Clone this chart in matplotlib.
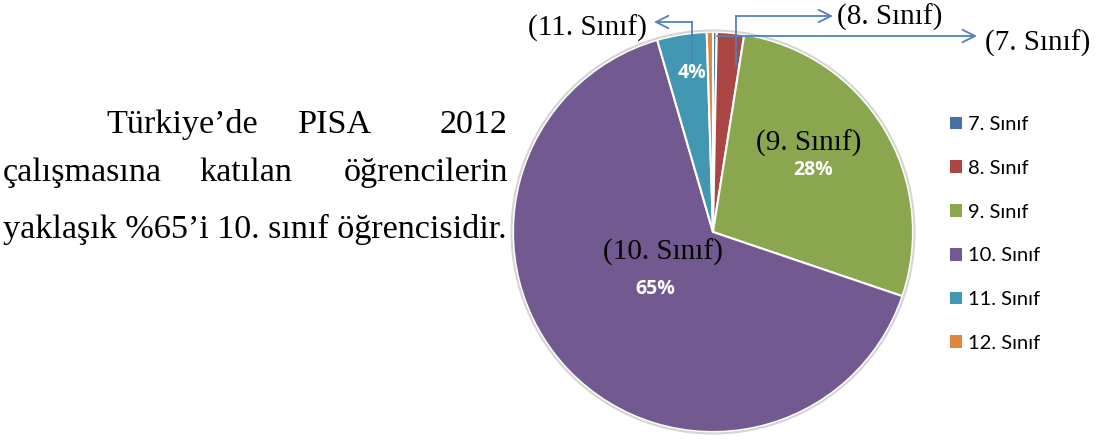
import matplotlib.pyplot as plt
from matplotlib.patches import Patch

W, H = 1100, 441

siniflar = ["7. Sınıf", "8. Sınıf", "9. Sınıf", "10. Sınıf", "11. Sınıf", "12. Sınıf"]
oranlar = [0.3, 2.2, 27.7, 65.3, 4.0, 0.5]
renkler = ["#4472A8", "#AA4644", "#8AA64E", "#725A90", "#4298B2", "#E0873F"]

aciklama = [
    ["Türkiye’de", "PISA", "2012"],
    ["çalışmasına", "katılan", "öğrencilerin"],
    ["yaklaşık %65’i 10. sınıf öğrencisidir."],
]

fig = plt.figure(figsize=(W / 100, H / 100), dpi=100)
ax = fig.add_axes([0, 0, 1, 1])
ax.set_xlim(0, W)
ax.set_ylim(0, H)
ax.set_aspect("equal")
ax.axis("off")


def py(y):
    # picture y (top down) -> data y
    return H - y


cx, cy, r = 713, 232, 200
wedges, _ = ax.pie(oranlar, colors=renkler, startangle=90, counterclock=False,
                   center=(cx, py(cy)), radius=r,
                   wedgeprops=dict(edgecolor="white", linewidth=1.5))
ax.add_patch(plt.Circle((cx, py(cy)), r + 1.5, fill=False, edgecolor="#d5d5d5", linewidth=1.5))
ax.set_xlim(0, W)
ax.set_ylim(0, H)

# yüzde etiketleri
pct_font = dict(color="white", fontweight="bold", fontsize=14, family="Open Sans",
                ha="center", va="center")
ax.text(813, py(170), f"{round(oranlar[2])}%", **pct_font)
ax.text(655, py(289), f"{round(oranlar[3])}%", **pct_font)
ax.text(692, py(73), f"{round(oranlar[4])}%", **pct_font)

serif = dict(family="Liberation Serif", fontsize=21, color="black")
ax.text(809, py(143), "(9. Sınıf)", ha="center", va="center", **serif)
ax.text(663, py(252), "(10. Sınıf)", ha="center", va="center", **serif)

# oklar
okcolor = "#4F81BD"
ok = dict(arrowstyle="->,head_length=0.9,head_width=0.45", color=okcolor, lw=1.3,
          shrinkA=0, shrinkB=0)
ax.plot([692, 692], [py(63), py(22)], color=okcolor, lw=1.3)
ax.annotate("", xy=(654, py(22)), xytext=(692, py(22)), arrowprops=ok)
ax.text(647, py(28), "(11. Sınıf)", ha="right", va="center", **serif)

ax.plot([736, 736], [py(65), py(16)], color=okcolor, lw=1.3)
ax.annotate("", xy=(833, py(16)), xytext=(736, py(16)), arrowprops=ok)
ax.text(837, py(17), "(8. Sınıf)", ha="left", va="center", **serif)

ax.annotate("", xy=(977, py(36)), xytext=(717, py(36)), arrowprops=ok)
ax.text(985, py(43), "(7. Sınıf)", ha="left", va="center", **serif)

# lejant
handles = [Patch(facecolor=c, edgecolor="none") for c in renkler]
leg = ax.legend(handles, siniflar, loc="center left", bbox_to_anchor=(950 / W, 1 - 234 / H),
                frameon=False, prop=dict(family="Lato", size=14.5), labelspacing=1.33,
                handlelength=0.6, handleheight=0.6, handletextpad=0.3,
                borderpad=0, borderaxespad=0)

# sol metin
tfont = dict(family="Liberation Serif", fontsize=24.6, color="black", va="baseline")
ax.text(106, py(133), aciklama[0][0], ha="left", **tfont)
ax.text(335, py(133), aciklama[0][1], ha="center", **tfont)
ax.text(507, py(133), aciklama[0][2], ha="right", **tfont)
ax.text(3, py(181), aciklama[1][0], ha="left", **tfont)
ax.text(246, py(181), aciklama[1][1], ha="center", **tfont)
ax.text(508, py(181), aciklama[1][2], ha="right", **tfont)
ax.text(3, py(238), aciklama[2][0], ha="left", **tfont)

fig.savefig("out.png", dpi=100)
